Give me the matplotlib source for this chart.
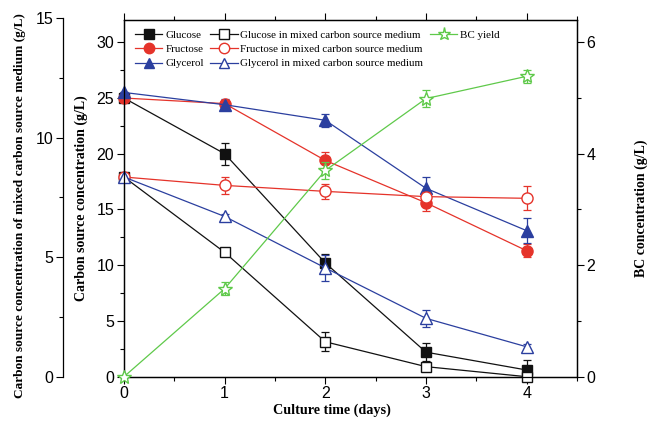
import matplotlib
matplotlib.use("Agg")
import matplotlib.pyplot as plt
from matplotlib.ticker import MultipleLocator
from matplotlib.lines import Line2D

days = [0, 1, 2, 3, 4]

# single carbon source (inner left axis, g/L)
glucose = [25.0, 20.0, 10.2, 2.2, 0.6]
glucose_err = [0.0, 1.0, 0.8, 0.8, 0.9]
fructose = [25.0, 24.5, 19.4, 15.6, 11.3]
fructose_err = [0.0, 0.3, 0.8, 0.7, 0.6]
glycerol = [25.5, 24.4, 23.0, 16.9, 13.1]
glycerol_err = [0.0, 0.5, 0.6, 1.0, 1.1]

# mixed carbon source medium (outer left axis, g/L)
mix_glucose = [8.35, 5.2, 1.46, 0.42, 0.0]
mix_glucose_err = [0.0, 0.1, 0.4, 0.2, 0.0]
mix_fructose = [8.35, 8.0, 7.75, 7.53, 7.46]
mix_fructose_err = [0.0, 0.35, 0.3, 0.2, 0.5]
mix_glycerol = [8.35, 6.7, 4.55, 2.44, 1.25]
mix_glycerol_err = [0.0, 0.1, 0.55, 0.35, 0.1]

# BC yield (right axis, g/L)
bc = [0.0, 1.58, 3.70, 4.99, 5.39]
bc_err = [0.0, 0.12, 0.15, 0.15, 0.12]

BLACK = "#111111"
RED = "#e5332a"
BLUE = "#2b3f9f"
GREEN = "#5fc94a"

serif = ["Liberation Serif", "DejaVu Serif"]
sans = ["Liberation Sans", "DejaVu Sans"]
plt.rcParams["font.family"] = sans
plt.rcParams["xtick.direction"] = "out"
plt.rcParams["ytick.direction"] = "out"

W, H = 657, 423
fig = plt.figure(figsize=(W / 100, H / 100), dpi=100)

L, R, T, B = 124, 577, 20, 376.7
ax = fig.add_axes([L / W, 1 - B / H, (R - L) / W, (B - T) / H])
ax.patch.set_visible(False)

# outer axis (mixed medium), slightly taller so 15 sits at top
T2 = 18
ax_out = fig.add_axes([L / W, 1 - B / H, (R - L) / W, (B - T2) / H])
ax_out.patch.set_visible(False)
for s in ["top", "right", "bottom"]:
    ax_out.spines[s].set_visible(False)
ax_out.spines["left"].set_position(("outward", 44))
ax_out.set_xticks([])
ax_out.set_xlim(0, 4.5)
ax_out.set_ylim(0, 15)
ax_out.yaxis.set_major_locator(MultipleLocator(5))
ax_out.yaxis.set_minor_locator(MultipleLocator(2.5))

axr = ax.twinx()
axr.set_ylim(0, 6.4)
axr.yaxis.set_major_locator(MultipleLocator(2))
axr.yaxis.set_minor_locator(MultipleLocator(1))

ax.set_xlim(0, 4.5)
ax.set_ylim(0, 32)
ax.xaxis.set_major_locator(MultipleLocator(1))
ax.xaxis.set_minor_locator(MultipleLocator(0.5))
ax.yaxis.set_major_locator(MultipleLocator(5))
ax.yaxis.set_minor_locator(MultipleLocator(2.5))
ax.tick_params(axis="x", which="both", top=True)

for a in (ax, ax_out, axr):
    a.tick_params(which="major", length=5, width=0.8, labelsize=11.5, pad=2)
    a.tick_params(which="minor", length=3, width=0.8)
    for s in a.spines.values():
        s.set_linewidth(0.9)

lw = 0.9
ms = 7
common = dict(lw=lw, capsize=3, elinewidth=0.9, capthick=0.9, clip_on=False, zorder=3)

ax.errorbar(days, glucose, yerr=glucose_err, color=BLACK, marker="s", ms=ms,
            mfc=BLACK, mec=BLACK, ecolor=BLACK, **common)
ax.errorbar(days, fructose, yerr=fructose_err, color=RED, marker="o", ms=ms + 1,
            mfc=RED, mec=RED, ecolor=RED, **common)
ax.errorbar(days, glycerol, yerr=glycerol_err, color=BLUE, marker="^", ms=ms + 2,
            mfc=BLUE, mec=BLUE, ecolor=BLUE, **common)

ax_out.errorbar(days, mix_glucose, yerr=mix_glucose_err, color=BLACK, marker="s", ms=ms,
                mfc="white", mec=BLACK, ecolor=BLACK, **common)
ax_out.errorbar(days, mix_fructose, yerr=mix_fructose_err, color=RED, marker="o", ms=ms + 1,
                mfc="white", mec=RED, ecolor=RED, **common)
ax_out.errorbar(days, mix_glycerol, yerr=mix_glycerol_err, color=BLUE, marker="^", ms=ms + 2,
                mfc="white", mec=BLUE, ecolor=BLUE, **common)

axr.errorbar(days, bc, yerr=bc_err, color=GREEN, marker="*", ms=ms + 3,
             mfc="white", mec=GREEN, ecolor=GREEN, **common)

ax.set_xlabel("Culture time (days)", fontdict=dict(family=serif, weight="bold", size=10.2),
              labelpad=3)
ax.xaxis.set_label_coords(0.46, -0.075)
ax.set_ylabel("Carbon source concentration (g/L)",
              fontdict=dict(family=serif, weight="bold", size=10), labelpad=6)
ax_out.set_ylabel("Carbon source concentration of mixed carbon source medium (g/L)",
                  fontdict=dict(family=serif, weight="bold", size=9.6))
ax_out.yaxis.set_label_coords(-0.216, 0.476)
axr.set_ylabel("BC concentration (g/L)", fontdict=dict(family=serif, weight="bold", size=10))
axr.yaxis.set_label_coords(1.128, 0.473)

def h(color, marker, mfc, size):
    return Line2D([], [], color=color, lw=lw, marker=marker, ms=size, mfc=mfc, mec=color)

blank = Line2D([], [], lw=0, alpha=0)
handles = [
    h(BLACK, "s", BLACK, 6.5), h(RED, "o", RED, 7.5), h(BLUE, "^", BLUE, 7.5),
    h(BLACK, "s", "white", 6.5), h(RED, "o", "white", 7.5), h(BLUE, "^", "white", 7.5),
    h(GREEN, "*", "white", 9.5), blank, blank,
]
labels = ["Glucose", "Fructose", "Glycerol",
          "Glucose in mixed carbon source medium",
          "Fructose in mixed carbon source medium",
          "Glycerol in mixed carbon source medium",
          "BC yield", "", ""]
leg = axr.legend(handles, labels, ncol=3, loc="upper left", bbox_to_anchor=(0.005, 0.995),
                 frameon=False, prop=dict(family=serif, size=7.9),
                 handlelength=2.5, handletextpad=0.25, columnspacing=0.6,
                 labelspacing=0.4, borderaxespad=0.4)

fig.savefig("out.png", dpi=100)
